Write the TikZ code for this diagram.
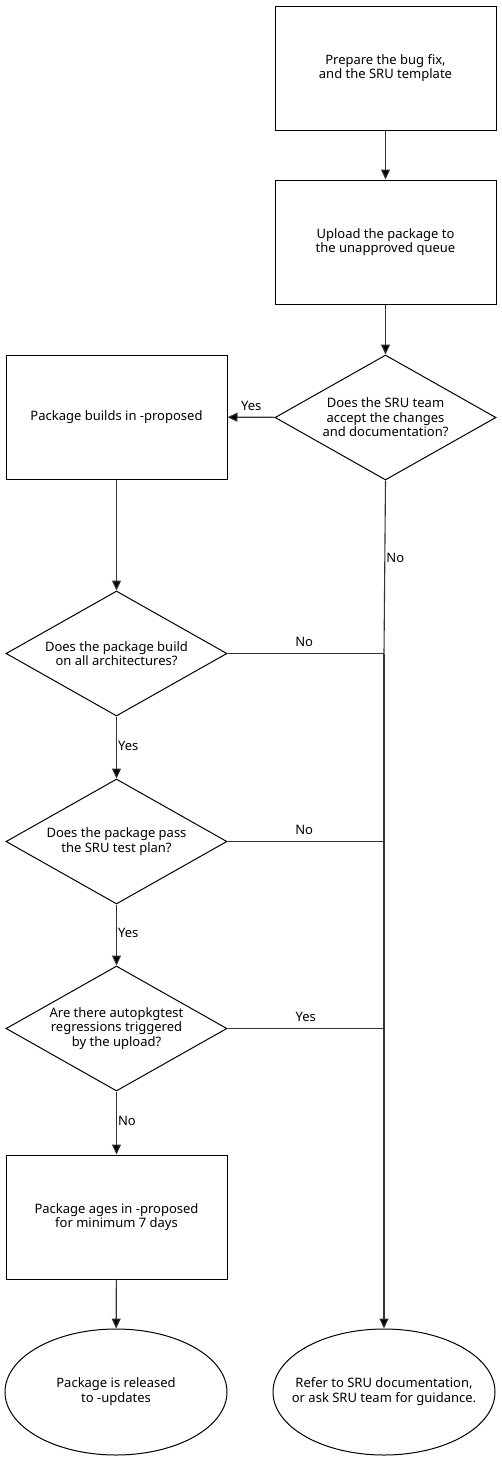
\documentclass[tikz,border=0pt]{standalone}
\usepackage{fontspec}
\setmainfont{Noto Sans}
\usetikzlibrary{shapes.geometric,arrows.meta}
\newcommand{\twolines}[1]{\makebox[0pt]{\begin{tabular}{@{}c@{}}#1\end{tabular}}}
\begin{document}
\begin{tikzpicture}[x=1pt,y=-1pt,
  every node/.style={font=\fontsize{13}{14.4}\selectfont, align=center},
  box/.style={draw=black, line width=1pt, rectangle, minimum width=221pt, minimum height=124pt, inner sep=0pt},
  dec/.style={draw=black, line width=1pt, diamond, aspect=1.768, minimum width=221pt, minimum height=125pt, inner sep=0pt},
  term/.style={draw=black, line width=1pt, ellipse, minimum width=222pt, minimum height=126pt, inner sep=0pt},
  conn/.style={draw=black!80, line width=1.1pt},
  arr/.style={conn, -{Triangle[length=10pt,width=9pt,fill=black]}},
  lbl/.style={inner sep=1pt},
  hl/.style={lbl, above=5pt}
]
\useasboundingbox (0,0) rectangle (501,1460);
\node[box] (prep) at (385.5,68) {Prepare the bug fix,\\and the SRU template};
\node[box] (upload) at (385.5,242) {Upload the package to\\the unapproved queue};
\node[dec] (accept) at (385.5,417.5) {Does the SRU team\\accept the changes\\and documentation?};
\node[box] (builds) at (116.5,417) {Package builds in -proposed};
\node[dec] (arch) at (116.5,653.5) {Does the package build\\on all architectures?};
\node[dec] (plan) at (116.5,841.5) {Does the package pass\\the SRU test plan?};
\node[dec] (regr) at (116.5,1028.5) {Are there autopkgtest\\regressions triggered\\by the upload?};
\node[box] (ages) at (116.5,1217) {Package ages in -proposed\\for minimum 7 days};
\node[term] (rel) at (116,1392) {\twolines{Package is released\\to -updates}};
\node[term] (refer) at (384,1392) {\twolines{Refer to SRU documentation,\\or ask SRU team for guidance.}};

\coordinate (j1) at (384,653.5);
\coordinate (j2) at (384,841.5);
\coordinate (j3) at (384,1028.5);

\draw[arr] (prep) -- (upload);
\draw[arr] (upload) -- (accept);
\draw[arr] (accept) -- node[hl, pos=0.5] {Yes} (builds);
\draw[conn] (accept.south) -- node[lbl, right, pos=0.45] {No} (j1);
\draw[arr] (j1) -- (refer.north);
\draw[arr] (builds) -- (arch);
\draw[conn] (arch.east) -- node[hl, pos=0.49] {No} (j1);
\draw[arr] (arch) -- node[lbl, right, pos=0.47] {Yes} (plan);
\draw[conn] (plan.east) -- node[hl, pos=0.49] {No} (j2);
\draw[arr] (plan) -- node[lbl, right, pos=0.47] {Yes} (regr);
\draw[conn] (regr.east) -- node[hl, pos=0.5] {Yes} (j3);
\draw[arr] (regr) -- node[lbl, right, pos=0.47] {No} (ages);
\draw[arr] (ages) -- (rel);
\end{tikzpicture}
\end{document}
